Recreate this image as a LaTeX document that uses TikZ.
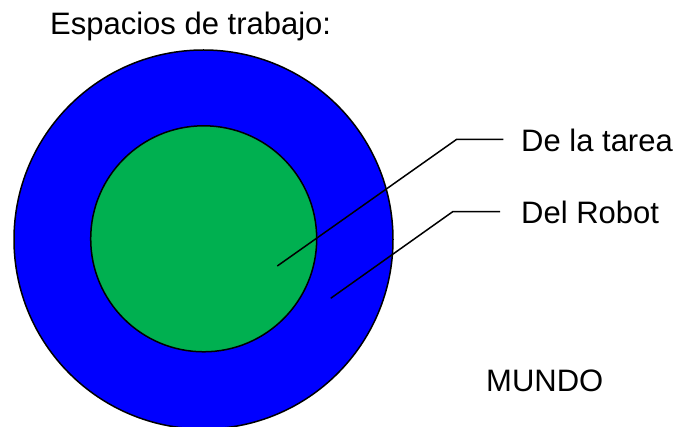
\documentclass[tikz,border=0pt]{standalone}
\usepackage{fontspec}
\setmainfont{Liberation Sans}
\definecolor{ringblue}{HTML}{0000FF}
\definecolor{coregreen}{HTML}{00B050}
\begin{document}
\begin{tikzpicture}[x=1pt,y=-1pt,
  lbl/.style={anchor=base west,inner sep=0pt,font=\fontsize{31}{37}\selectfont},
  disc/.style={circle,draw=black,line width=1.5pt,inner sep=0pt},
  leader/.style={draw=black,line width=1.5pt}]
\useasboundingbox (0,0) rectangle (678,427);
\node[disc,fill=ringblue,minimum size=379pt] (outer) at (203.5,239.5) {};
\node[disc,fill=coregreen,minimum size=226pt] (inner) at (203.7,238.8) {};
\node[lbl] (title) at (50,34.3) {Espacios de trabajo:};
\node[lbl] (tarea) at (521,152) {De la tarea};
\node[lbl] (robot) at (521,223.3) {Del Robot};
\node[lbl] (mundo) at (486,392) {MUNDO};
\coordinate (t0) at (277.3,266);
\coordinate (t1) at (456.7,139.3);
\coordinate (t2) at (503.3,139.3);
\coordinate (r0) at (330.7,298.3);
\coordinate (r1) at (452.7,211.7);
\coordinate (r2) at (500,211.7);
\draw[leader] (t0) -- (t1) -- (t2);
\draw[leader] (r0) -- (r1) -- (r2);
\end{tikzpicture}
\end{document}
